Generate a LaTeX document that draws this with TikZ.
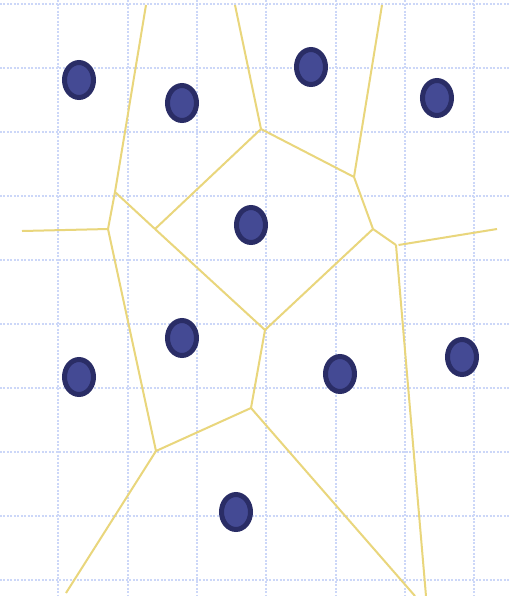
\documentclass[tikz,border=0pt]{standalone}
\usepackage{tikz}
\usepackage{xcolor}
\usetikzlibrary{shapes.geometric}
\definecolor{GridBlue}{HTML}{CCD7F8}
\definecolor{EdgeYellow}{HTML}{E9D67C}
\definecolor{SiteFill}{HTML}{444A94}
\definecolor{SiteRim}{HTML}{2A2D66}

\begin{document}
\begin{tikzpicture}[x=0.02cm,y=-0.02cm,
    site/.style={ellipse,draw=SiteRim,fill=SiteFill,line width=0.1cm,inner sep=0pt,minimum width=0.58cm,minimum height=0.7cm},
    gridline/.style={GridBlue,line width=0.04cm,dash pattern=on 0.04cm off 0.03cm},
    edge/.style={EdgeYellow,line width=0.04cm}]
      \fill[white] (0,0) rectangle (509,596);
      \useasboundingbox (0,0) rectangle (509,596);
      % grid
      \foreach \gx in {58,128,197,266,336,405,474}
        \draw[gridline] (\gx,0) -- (\gx,596);
      \foreach \gy in {4,68,132,196,260,324,388,452,516,580}
        \draw[gridline] (0,\gy) -- (509,\gy);
      % voronoi vertices
      \coordinate (v1) at (115,192);
      \coordinate (v2) at (108,229);
      \coordinate (v3) at (155,229);
      \coordinate (v4) at (261,129);
      \coordinate (v5) at (354,177);
      \coordinate (v6) at (373,229);
      \coordinate (v7) at (396,245);
      \coordinate (v8) at (265,330);
      \coordinate (v9) at (251,408);
      \coordinate (v10) at (156,451);
      % open ends
      \coordinate (o1) at (146,5);
      \coordinate (o2) at (22,231);
      \coordinate (o3) at (235,5);
      \coordinate (o4) at (382,5);
      \coordinate (o5) at (497,229);
      \coordinate (o6) at (426,596);
      \coordinate (o7) at (415,596);
      \coordinate (o8) at (66,593);
      % edges
      \draw[edge] (o1) -- (v1);
      \draw[edge] (v1) -- (v2);
      \draw[edge] (o2) -- (v2);
      \draw[edge] (v1) -- (v3);
      \draw[edge] (v3) -- (v8);
      \draw[edge] (v3) -- (v4);
      \draw[edge] (o3) -- (v4);
      \draw[edge] (v4) -- (v5);
      \draw[edge] (o4) -- (v5);
      \draw[edge] (v5) -- (v6);
      \draw[edge] (v6) -- (v8);
      \draw[edge] (v6) -- (v7);
      \draw[edge] ([xshift=0.05cm]v7) -- (o5);
      \draw[edge] (v7) -- (o6);
      \draw[edge] (v8) -- (v9);
      \draw[edge] (v9) -- (v10);
      \draw[edge] (v2) -- (v10);
      \draw[edge] (v10) -- (o8);
      \draw[edge] (v9) -- (o7);
      % sites
      \node[site] (s1) at (79,80) {};
      \node[site] (s2) at (182,103) {};
      \node[site] (s3) at (311,67) {};
      \node[site] (s4) at (437,98) {};
      \node[site] (s5) at (251,225) {};
      \node[site] (s6) at (182,338) {};
      \node[site] (s7) at (79,377) {};
      \node[site] (s8) at (340,374) {};
      \node[site] (s9) at (462,357) {};
      \node[site] (s10) at (236,512) {};
    \end{tikzpicture}
\end{document}
